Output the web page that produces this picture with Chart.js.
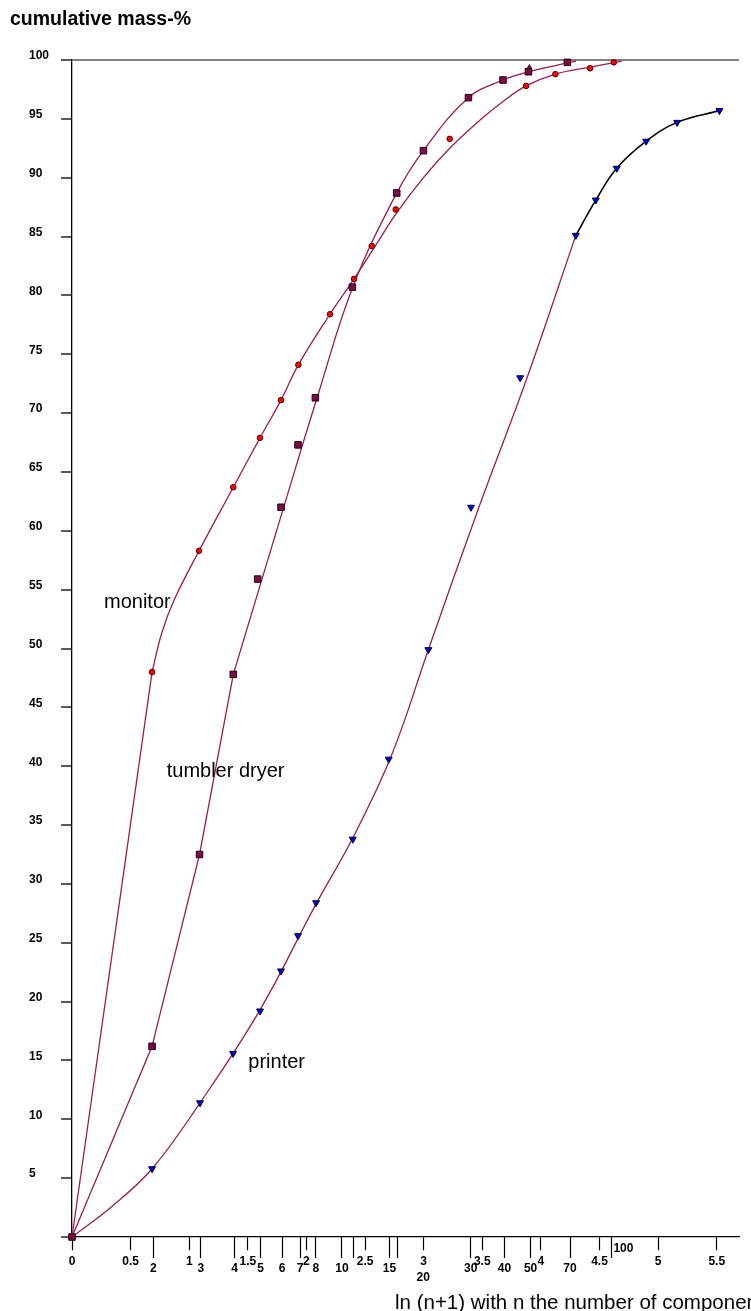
<!DOCTYPE html>
<html>
<head>
<meta charset="utf-8">
<title>cumulative mass-%</title>
<script src="https://cdn.jsdelivr.net/npm/chart.js@4.4.1/dist/chart.umd.min.js"></script>
<style>
  html, body { margin: 0; padding: 0; background: #ffffff; }
  canvas { display: block; }
</style>
</head>
<body>
<canvas id="chart" width="751" height="1311"></canvas>
<script>
// x = ln(n+1), y = cumulative mass-%

// measured points
const monitorX = [0.683, 1.084, 1.376, 1.604, 1.783, 1.931, 2.201, 2.406, 2.557, 2.762, 3.222, 3.874, 4.124, 4.420, 4.622];
const monitorY = [48.0, 58.3, 63.7, 67.9, 71.1, 74.1, 78.4, 81.4, 84.2, 87.3, 93.3, 97.8, 98.8, 99.3, 99.8];

const tumblerX = [0, 0.683, 1.088, 1.376, 1.584, 1.783, 1.928, 2.076, 2.392, 2.770, 2.998, 3.382, 3.677, 3.894, 4.226];
const tumblerY = [0, 16.2, 32.5, 47.8, 55.9, 62.0, 67.3, 71.3, 80.7, 88.7, 92.3, 96.8, 98.3, 99.0, 99.8];

const tumblerExtraX = [3.902];
const tumblerExtraY = [99.35];

const printerX = [0.683, 1.092, 1.374, 1.604, 1.783, 1.928, 2.082, 2.395, 2.702, 3.040, 3.404, 3.823, 4.298, 4.468, 4.647, 4.898, 5.162, 5.523];
const printerY = [5.8, 11.4, 15.6, 19.2, 22.6, 25.6, 28.4, 33.8, 40.6, 49.9, 62.0, 73.0, 85.1, 88.1, 90.8, 93.1, 94.7, 95.7];

// fitted curves (vertices up to the corner index are joined by straight segments)
const monitorFitX = [0, 0.683, 0.765, 0.870, 1.084, 1.376, 1.604, 1.783, 1.931, 2.201, 2.406, 2.600, 2.762, 2.998, 3.222, 3.481, 3.680, 3.874, 4.124, 4.420, 4.690];
const monitorFitY = [0, 48.0, 51.3, 54.1, 58.3, 63.7, 67.9, 71.1, 74.1, 78.4, 81.4, 84.4, 86.9, 90.0, 92.5, 94.9, 96.5, 97.8, 98.8, 99.4, 99.9];
const monitorCorner = 1;

const tumblerFitX = [0, 0.683, 1.088, 1.376, 1.830, 2.100, 2.395, 2.770, 2.998, 3.382, 3.677, 3.894, 4.226, 4.300];
const tumblerFitY = [0, 16.2, 32.5, 47.8, 62.8, 71.6, 80.7, 88.7, 92.3, 96.8, 98.3, 99.0, 99.75, 99.9];
const tumblerCorner = 3;

const printerFitX = [0, 0.340, 0.683, 1.092, 1.604, 2.082, 2.395, 2.725, 3.040, 3.475, 3.882, 4.298];
const printerFitY = [0, 2.6, 5.8, 11.4, 19.3, 28.3, 33.9, 40.9, 49.9, 62.1, 73.0, 85.1];

const printerTopX = [4.298, 4.468, 4.647, 4.898, 5.162, 5.523];
const printerTopY = [85.1, 88.1, 90.8, 93.1, 94.7, 95.7];

// axis ticks
const yTicksStep = 5;
const lnTicks = [0, 0.5, 1, 1.5, 2, 2.5, 3, 3.5, 4, 4.5, 5, 5.5];
const lnTickLabels = ['0', '0.5', '1', '1.5', '2', '2.5', '3', '3.5', '4', '4.5', '5', '5.5'];
const nTicks = [2, 3, 4, 5, 6, 7, 8, 10, 11, 15, 16, 20, 30, 40, 50, 70, 100];
const nTickLabels = ['2', '3', '4', '5', '6', '7', '8', '10', '', '15', '', '20', '30', '40', '50', '70', '100'];
const nLabelsBelow = ['20'];    // pushed to a second line under the ln label
const nLabelsBeside = ['100'];  // written beside the tick mark

const yTitle = 'cumulative mass-%';
const xTitle = 'ln (n+1) with n the number of components';
const curveNames = [
  { text: 'monitor', x: 0.273, y: 53.45 },
  { text: 'tumbler dryer', x: 0.808, y: 39.1 },
  { text: 'printer', x: 1.504, y: 14.35 }
];

const FONT = '"Liberation Sans", Arial, Helvetica, sans-serif';
const X_MAX = 5.69;
const CURVE = '#9a1d50';
const TENSION = 0.4;

function pts(xs, ys) { return xs.map((x, i) => ({ x: x, y: ys[i] })); }

const besideTicks = nTicks.filter((n, i) => nLabelsBeside.includes(nTickLabels[i]));
const besideLabels = nTickLabels.filter(t => nLabelsBeside.includes(t));

const freeText = {
  id: 'freeText',
  afterDatasetsDraw(chart) {
    const { ctx } = chart;
    const xs = chart.scales.x, ys = chart.scales.y;
    ctx.save();
    ctx.fillStyle = '#000';
    ctx.textAlign = 'left';
    ctx.textBaseline = 'alphabetic';
    ctx.font = '20px ' + FONT;
    curveNames.forEach(l => ctx.fillText(l.text, xs.getPixelForValue(l.x), ys.getPixelForValue(l.y)));
    ctx.font = '20.5px ' + FONT;
    ctx.fillText(xTitle, 395, 1309);
    ctx.font = 'bold 19.5px ' + FONT;
    ctx.fillText(yTitle, 10, 25);
    ctx.restore();
  }
};

const tickFont = { family: FONT, size: 12, weight: 'bold' };

function curve(label, xs, ys, color, width, tension) {
  return { label: label, data: pts(xs, ys), order: 1, borderColor: color, borderWidth: width,
           pointRadius: 0, tension: tension, clip: false };
}

new Chart(document.getElementById('chart'), {
  type: 'line',
  data: {
    datasets: [
      { label: 'tumbler dryer', data: pts(tumblerX, tumblerY), showLine: false, order: 0, clip: false,
        pointStyle: 'rect', pointRadius: 4.6, pointBackgroundColor: '#7d0a45', pointBorderColor: '#1a0010', pointBorderWidth: 1 },
      { label: 'tumbler dryer (extra)', data: pts(tumblerExtraX, tumblerExtraY), showLine: false, order: 0, clip: false,
        pointStyle: 'triangle', pointRadius: 3, pointBackgroundColor: '#7d0a45', pointBorderColor: '#1a0010', pointBorderWidth: 1 },
      { label: 'monitor', data: pts(monitorX, monitorY), showLine: false, order: 0, clip: false,
        pointStyle: 'circle', pointRadius: 2.8, pointBackgroundColor: '#ff0000', pointBorderColor: '#4a0000', pointBorderWidth: 1 },
      { label: 'printer', data: pts(printerX, printerY), showLine: false, order: 0, clip: false,
        pointStyle: 'triangle', pointRotation: 180, pointRadius: 4, pointBackgroundColor: '#0000f0', pointBorderColor: '#000022', pointBorderWidth: 1 },

      curve('monitor rise', monitorFitX.slice(0, monitorCorner + 1), monitorFitY.slice(0, monitorCorner + 1), CURVE, 1.3, 0),
      curve('monitor fit', monitorFitX.slice(monitorCorner), monitorFitY.slice(monitorCorner), CURVE, 1.3, TENSION),
      curve('tumbler rise', tumblerFitX.slice(0, tumblerCorner + 1), tumblerFitY.slice(0, tumblerCorner + 1), CURVE, 1.3, 0),
      curve('tumbler fit', tumblerFitX.slice(tumblerCorner), tumblerFitY.slice(tumblerCorner), CURVE, 1.3, TENSION),
      curve('printer fit', printerFitX, printerFitY, CURVE, 1.3, TENSION),
      curve('printer top', printerTopX, printerTopY, '#000000', 1.6, TENSION)
    ]
  },
  options: {
    responsive: false,
    animation: false,
    devicePixelRatio: 1,
    layout: { padding: { left: 29, right: 12, top: 60, bottom: 74 } },
    plugins: { legend: { display: false }, tooltip: { enabled: false }, title: { display: false } },
    scales: {
      y: {
        type: 'linear', position: 'left', min: 0, max: 100,
        afterFit: s => { s.width = 43; },
        ticks: {
          stepSize: yTicksStep, autoSkip: false, crossAlign: 'far', labelOffset: -4, padding: 4,
          font: tickFont, color: '#000',
          callback: v => (v === 0 ? '' : String(v))
        },
        grid: {
          drawOnChartArea: true, drawTicks: true, tickLength: 11, tickColor: '#000', tickWidth: 1.3,
          color: ctx => (ctx.tick && ctx.tick.value === 100 ? '#808080' : 'rgba(0,0,0,0)'),
          lineWidth: 2
        },
        border: { display: true, color: '#000', width: 1.3 }
      },
      x: {
        type: 'linear', position: { y: 0 }, min: 0, max: X_MAX,
        afterBuildTicks: s => { s.ticks = lnTicks.map(v => ({ value: v })); },
        ticks: {
          autoSkip: false, maxRotation: 0, minRotation: 0, padding: 4.5,
          font: tickFont, color: '#000',
          callback: (v, i) => lnTickLabels[i]
        },
        grid: { drawOnChartArea: false, drawTicks: true, tickLength: 13, tickColor: '#000', tickWidth: 1.2 },
        border: { display: true, color: '#000', width: 1.3 }
      },
      xn: {
        type: 'linear', position: { y: 0 }, min: 0, max: X_MAX,
        afterBuildTicks: s => { s.ticks = nTicks.map(n => ({ value: Math.log(n) })); },
        ticks: {
          autoSkip: false, maxRotation: 0, minRotation: 0, padding: 5.7,
          font: { family: FONT, size: 12, weight: 'bold', lineHeight: 0.8 }, color: '#000',
          callback: (v, i) => {
            const t = nTickLabels[i];
            if (nLabelsBeside.includes(t)) return '';
            if (nLabelsBelow.includes(t)) return ['', t];
            return t;
          }
        },
        grid: {
          drawOnChartArea: false, drawTicks: true, tickLength: 21, tickWidth: 1.2,
          tickColor: ctx => (nLabelsBelow.includes(nTickLabels[ctx.index]) ? 'rgba(0,0,0,0)' : '#000')
        },
        border: { display: false }
      },
      xh: {
        type: 'linear', position: { y: 0 }, min: 0, max: X_MAX,
        afterBuildTicks: s => { s.ticks = besideTicks.map(n => ({ value: Math.log(n) })); },
        ticks: {
          autoSkip: false, maxRotation: 0, minRotation: 0, padding: 4.8, labelOffset: 11.6,
          font: tickFont, color: '#000',
          callback: (v, i) => besideLabels[i]
        },
        grid: { drawOnChartArea: false, drawTicks: false },
        border: { display: false }
      }
    }
  },
  plugins: [freeText]
});
</script>
</body>
</html>
